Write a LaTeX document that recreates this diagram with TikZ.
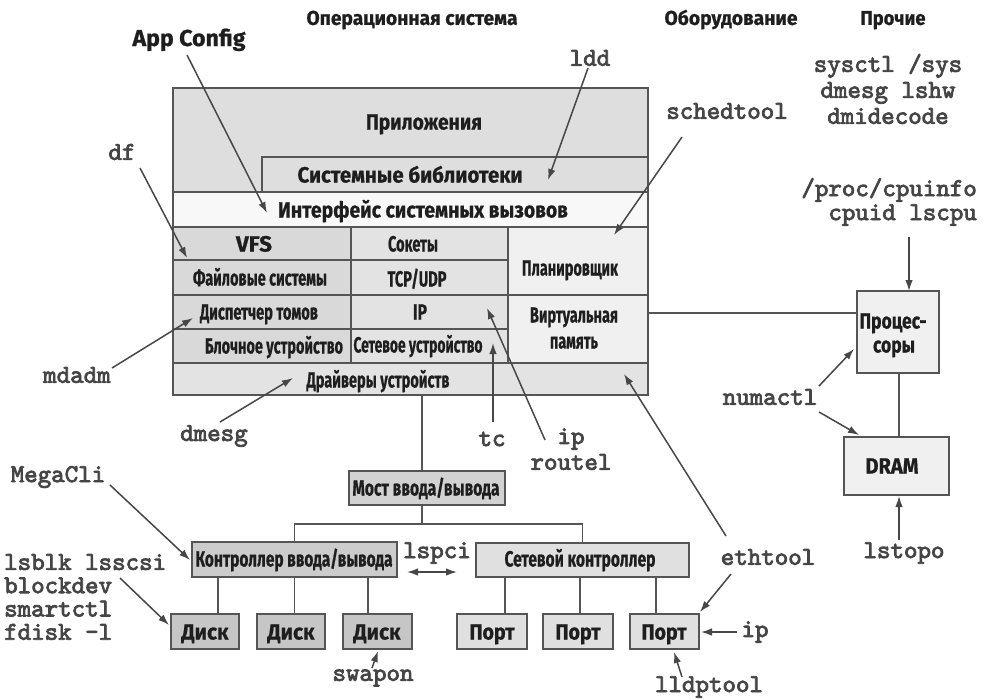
\documentclass[tikz,border=0pt]{standalone}
\usepackage{fontspec}
\usepackage{graphicx}
\setmainfont{Fira Sans}
\newfontfamily\condf[FakeBold=0.8]{Fira Sans}
\newfontfamily\monofam[FakeBold=3]{lmmono10-regular.otf}
\newcommand{\monof}{\monofam}
\usetikzlibrary{arrows.meta}
\definecolor{bord}{HTML}{555555}
\definecolor{txtc}{HTML}{1E1E1E}
\definecolor{cmdc}{HTML}{454545}
\definecolor{arrc}{HTML}{474747}
\definecolor{capp}{HTML}{DEDEDE}
\definecolor{cint}{HTML}{F8F8F8}
\definecolor{cone}{HTML}{D9D9D9}
\definecolor{ctwo}{HTML}{E3E3E3}
\definecolor{cthr}{HTML}{F0F0F0}
\definecolor{cbr}{HTML}{D2D2D2}
\definecolor{cioc}{HTML}{CCCCCC}
\definecolor{cnc}{HTML}{E0E0E0}
\definecolor{cdisk}{HTML}{C6C6C6}
\definecolor{cport}{HTML}{E0E0E0}
\definecolor{chw}{HTML}{F0F0F0}
\newcommand{\tw}[2]{\resizebox{#1pt}{\height}{#2}}
\newcommand{\mybox}[6]{\node[bx, fill=#6, minimum width={(#4-#2)*1pt}, minimum height={(#5-#3)*1pt}] (#1) at (#2,#3) {};}
\tikzset{
  bx/.style={draw=bord, line width=1.7pt, inner sep=0pt, outer sep=0pt, anchor=north west},
  lbl/.style={inner sep=0pt, font={\condf\bfseries\fontsize{22}{24}\selectfont}, text=txtc, text height=15pt, text depth=0pt},
  hdr/.style={inner sep=0pt, font={\condf\bfseries\fontsize{20}{22}\selectfont}, text=txtc, text height=13.8pt, text depth=0pt},
  cmd/.style={inner sep=0pt, font={\monof\fontsize{25.7}{26}\selectfont}, text=cmdc},
  arr/.style={draw=arrc, line width=1.5pt, -{Latex[length=11pt,width=7.5pt]}},
  dbl/.style={draw=arrc, line width=1.5pt, {Latex[length=11pt,width=7.5pt]}-{Latex[length=11pt,width=7.5pt]}},
  ln/.style={draw=bord, line width=1.7pt},
}
\begin{document}
\begin{tikzpicture}[x=1pt,y=-1pt]
\useasboundingbox (0,0) rectangle (984,699);
% ---------- OS block ----------
\mybox{os}{173}{88}{648}{395}{capp}
\mybox{slib}{262}{157}{648}{192}{capp}
\mybox{sci}{173}{192}{648}{227}{cint}
\mybox{vfs}{173}{227}{351}{260}{cone}
\mybox{fs}{173}{260}{351}{295}{cone}
\mybox{vol}{173}{295}{351}{329}{cone}
\mybox{blk}{173}{329}{351}{363}{cone}
\mybox{sock}{351}{227}{508}{260}{ctwo}
\mybox{tcp}{351}{260}{508}{295}{ctwo}
\mybox{ipl}{351}{295}{508}{329}{ctwo}
\mybox{netd}{351}{329}{508}{363}{ctwo}
\mybox{sch}{508}{227}{648}{295}{cthr}
\mybox{vm}{508}{295}{648}{363}{cthr}
\mybox{drv}{173}{363}{648}{395}{ctwo}
\draw[ln] (os.north west) rectangle (os.south east);
% ---------- hardware ----------
\mybox{proc}{857}{291}{939}{373}{chw}
\mybox{dram}{844}{437}{949}{495}{chw}
\mybox{br}{349}{471}{505}{505}{cbr}
\mybox{ioc}{192}{542}{397}{577}{cioc}
\mybox{nc}{476}{543}{689}{577}{cnc}
\mybox{dka}{171}{614}{239}{649}{cdisk}
\mybox{dkb}{257}{614}{325}{649}{cdisk}
\mybox{dkc}{343}{614}{412}{649}{cdisk}
\mybox{pta}{457}{614}{527}{649}{cport}
\mybox{ptb}{543}{614}{613}{649}{cport}
\mybox{ptc}{630}{614}{699}{649}{cport}
% ---------- texts in boxes ----------
\node[lbl] (tapp) at (424,122) {\tw{116}{Приложения}};
\node[lbl] (tslib) at (410,175) {\tw{225}{Системные библиотеки}};
\node[lbl] (tsci) at (423,210) {\tw{290}{Интерфейс системных вызовов}};
\node[lbl] (tvfs) at (254,244) {\tw{36}{VFS}};
\node[lbl] (tfs) at (260,278) {\tw{134}{Файловые системы}};
\node[lbl] (tvol) at (259,312) {\tw{118}{Диспетчер томов}};
\node[lbl] (tblk) at (274,346) {\tw{138}{Блочное устройство}};
\node[lbl] (tsock) at (413,244) {\tw{50}{Сокеты}};
\node[lbl] (ttcp) at (417,279) {\tw{59}{TCP/UDP}};
\node[lbl] (tipl) at (420,312) {\tw{14}{IP}};
\node[lbl] (tnetd) at (418,345) {\tw{129}{Сетевое устройство}};
\node[lbl] (tsch) at (570,268) {\tw{96}{Планировщик}};
\node[lbl] (tvma) at (574,315) {\tw{88}{Виртуальная}};
\node[lbl] (tvmb) at (574,341) {\tw{48}{память}};
\node[lbl] (tdrv) at (378,380) {\tw{143}{Драйверы устройств}};
\node[lbl] (tproca) at (893,321) {\tw{67}{Процес-}};
\node[lbl] (tprocb) at (894,345) {\tw{42}{соры}};
\node[lbl] (tdram) at (892,466) {\tw{53}{DRAM}};
\node[lbl] (tbr) at (426,488) {\tw{147}{Мост ввода/вывода}};
\node[lbl] (tioc) at (294,559) {\tw{197}{Контроллер ввода/вывода}};
\node[lbl] (tnc) at (580,559) {\tw{151}{Сетевой контроллер}};
\node[lbl] (tdka) at (205,632) {\tw{47}{Диск}};
\node[lbl] (tdkb) at (291,632) {\tw{47}{Диск}};
\node[lbl] (tdkc) at (377,632) {\tw{47}{Диск}};
\node[lbl] (tpta) at (492,632) {\tw{45}{Порт}};
\node[lbl] (tptb) at (578,632) {\tw{45}{Порт}};
\node[lbl] (tptc) at (664,632) {\tw{45}{Порт}};
% ---------- headers ----------
\node[hdr] (hos) at (412,18) {\tw{211}{Операционная система}};
\node[hdr] (hhw) at (731,18) {\tw{133}{Оборудование}};
\node[hdr] (hoth) at (893,18) {\tw{65}{Прочие}};
\node[inner sep=0pt, font={\condf\bfseries\fontsize{23}{25}\selectfont}, text=txtc, text height=16pt, text depth=0pt] (appc) at (189,38) {\tw{113}{App Config}};
% ---------- command labels ----------
\node[cmd] (ldd) at (590,58) {ldd};
\node[cmd] (sched) at (727,111) {schedtool};
\node[cmd, align=center] (sysc) at (888,89) {sysctl /sys\\dmesg lshw\\dmidecode};
\node[cmd, align=right, anchor=east, font={\monof\fontsize{25.7}{24}\selectfont}] (cpui) at (977,202) {/proc/cpuinfo\\cpuid lscpu};
\node[cmd] (df) at (122,152) {df};
\node[cmd] (mdadm) at (77,375) {mdadm};
\node[cmd] (dmesg) at (214,436) {dmesg};
\node[cmd] (tc) at (492,439) {tc};
\node[cmd] (ipa) at (571,439) {ip};
\node[cmd] (rtl) at (571,462) {routel};
\node[cmd] (numa) at (770,397) {numactl};
\node[cmd] (mega) at (58,477) {MegaCli};
\node[cmd, align=left, anchor=west, font={\monof\fontsize{25.7}{23.3}\selectfont}] (lsblk) at (4,597) {lsblk lsscsi\\blockdev\\smartctl\\fdisk -l};
\node[cmd] (lspci) at (437,553) {lspci};
\node[cmd] (swap) at (373,678) {swapon};
\node[cmd] (eth) at (768,557) {ethtool};
\node[cmd] (ipp) at (755,632) {ip};
\node[cmd] (lldp) at (709,687) {lldptool};
\node[cmd] (lstopo) at (904,553) {lstopo};
% ---------- arrow end points ----------
\coordinate (aAppS) at (187,55);   \coordinate (aAppE) at (267,213);
\coordinate (aLddS) at (588,68);   \coordinate (aLddE) at (548,180);
\coordinate (aSchS) at (682,137);  \coordinate (aSchE) at (614,235);
\coordinate (aDfS) at (140,168);   \coordinate (aDfE) at (187,258);
\coordinate (aMdS) at (112,368);   \coordinate (aMdE) at (193,318);
\coordinate (aDmS) at (220,422);   \coordinate (aDmE) at (293,378);
\coordinate (aTcS) at (493,422);   \coordinate (aTcE) at (493,343);
\coordinate (aIpS) at (545,440);   \coordinate (aIpE) at (487,308);
\coordinate (aEthS) at (726,536);  \coordinate (aEthE) at (624,374);
\coordinate (aEtpS) at (731,574);  \coordinate (aEtpE) at (700,612);
\coordinate (aIppS) at (737,632);  \coordinate (aIppE) at (701,632);
\coordinate (aLlS) at (682,677);   \coordinate (aLlE) at (674,652);
\coordinate (aNuS) at (819,386);   \coordinate (aNuE) at (854,349);
\coordinate (aNdS) at (819,412);   \coordinate (aNdE) at (859,435);
\coordinate (aCpS) at (909,237);   \coordinate (aCpE) at (909,291);
\coordinate (aLtS) at (899,540);   \coordinate (aLtE) at (899,496);
\coordinate (aMgS) at (110,485);   \coordinate (aMgE) at (190,560);
\coordinate (aLbS) at (120,578);   \coordinate (aLbE) at (169,625);
\coordinate (aSwS) at (372,668);   \coordinate (aSwE) at (378,651);
\coordinate (aPcS) at (407,572);   \coordinate (aPcE) at (457,572);
% ---------- connectors ----------
\coordinate (osb) at (422,395);
\draw[ln] (osb) -- (osb |- br.north);
\coordinate (bus) at (422,524);
\draw[ln] (br.south -| osb) -- (bus);
\draw[ln] (ioc.north) -- (ioc.north |- bus) -- (bus) -- (bus -| nc.north) -- (nc.north);
\coordinate (da) at (218,577);
\draw[ln] (da) -- (da |- dka.north);
\draw[ln] (ioc.south) -- (ioc.south |- dkb.north);
\coordinate (dc) at (368,577);
\draw[ln] (dc) -- (dc |- dkc.north);
\coordinate (pa) at (505,577);
\draw[ln] (pa) -- (pa |- pta.north);
\coordinate (pb) at (580,577);
\draw[ln] (pb) -- (pb |- ptb.north);
\coordinate (pc) at (656,577);
\draw[ln] (pc) -- (pc |- ptc.north);
\coordinate (osr) at (648,313);
\draw[ln] (osr) -- (osr -| proc.west);
\coordinate (pd) at (899,373);
\draw[ln] (pd) -- (pd |- dram.north);
% ---------- arrows ----------
\draw[arr] (aAppS) -- (aAppE);
\draw[arr] (aLddS) -- (aLddE);
\draw[arr] (aSchS) -- (aSchE);
\draw[arr] (aDfS) -- (aDfE);
\draw[arr] (aMdS) -- (aMdE);
\draw[arr] (aDmS) -- (aDmE);
\draw[arr] (aTcS) -- (aTcE);
\draw[arr] (aIpS) -- (aIpE);
\draw[arr] (aEthS) -- (aEthE);
\draw[arr] (aEtpS) -- (aEtpE);
\draw[arr] (aIppS) -- (aIppE);
\draw[arr] (aLlS) -- (aLlE);
\draw[arr] (aNuS) -- (aNuE);
\draw[arr] (aNdS) -- (aNdE);
\draw[arr] (aCpS) -- (aCpE);
\draw[arr] (aLtS) -- (aLtE);
\draw[arr] (aMgS) -- (aMgE);
\draw[arr] (aLbS) -- (aLbE);
\draw[arr] (aSwS) -- (aSwE);
\draw[dbl] (aPcS) -- (aPcE);
\end{tikzpicture}
\end{document}
